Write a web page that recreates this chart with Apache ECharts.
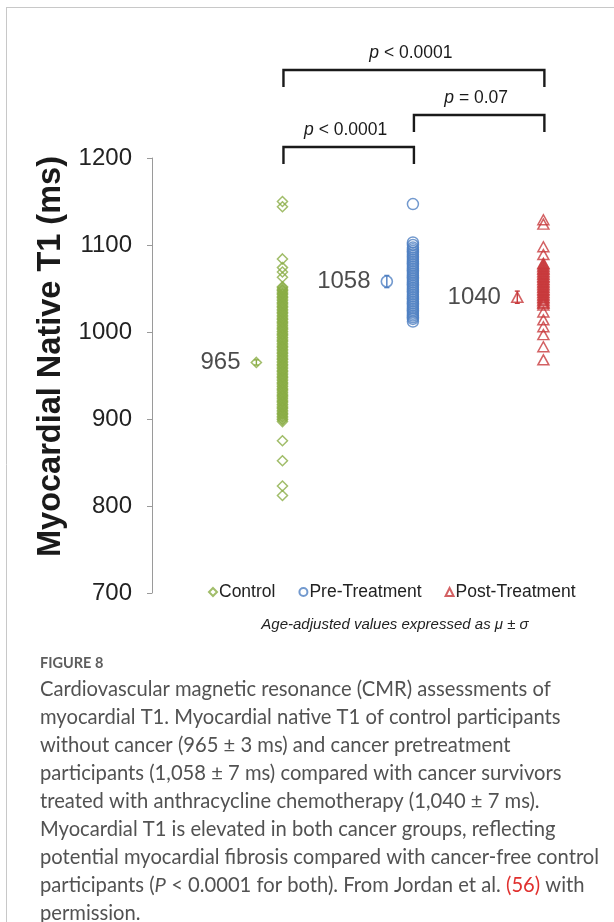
<!DOCTYPE html>
<html>
<head>
<meta charset="utf-8">
<script src="https://cdn.jsdelivr.net/npm/echarts@6/dist/echarts.min.js"></script>
<style>
  html, body { margin: 0; padding: 0; background: #fff; }
  #chart { width: 614px; height: 922px; }
</style>
</head>
<body>
<div id="chart"></div>
<script>
// Group names and their positions along the (hidden) x axis
const groups = ['Control', 'Pre-Treatment', 'Post-Treatment'];
const groupX = [2, 4, 6];
const meanOffset = -0.4;

// Individual myocardial native T1 values (ms)
const controlT1 = [1150, 1144, 1084, 1074, 1069, 1063,
  1052, 1051, 1049, 1048, 1047, 1045, 1044, 1043, 1041, 1040, 1039, 1037, 1036, 1034,
  1033, 1032, 1030, 1029, 1028, 1026, 1025, 1023, 1022, 1021, 1019, 1018, 1016, 1015,
  1014, 1012, 1011, 1010, 1008, 1007, 1005, 1004, 1003, 1001, 1000, 998, 997, 996,
  994, 993, 991, 990, 989, 987, 986, 984, 983, 982, 980, 979, 977, 976, 975, 973,
  972, 970, 969, 968, 966, 965, 963, 962, 961, 959, 958, 956, 955, 954, 952, 951,
  949, 948, 947, 945, 944, 942, 941, 940, 938, 937, 935, 934, 933, 931, 930, 928,
  927, 926, 924, 923, 921, 920, 919, 917, 916, 914, 913, 912, 910, 909, 907, 906,
  905, 903, 902, 900, 899, 897,
  875, 852, 823, 812];
const preT1 = [1147, 1103, 1100, 1097, 1095, 1093, 1091, 1089, 1087, 1085, 1083, 1081,
  1079, 1077, 1075, 1073, 1071, 1069, 1067, 1065, 1063, 1061, 1059, 1057, 1055, 1053,
  1051, 1049, 1047, 1045, 1043, 1041, 1039, 1037, 1035, 1033, 1031, 1029, 1027, 1025,
  1023, 1021, 1019, 1017, 1015, 1012];
const postT1 = [1129, 1124, 1098, 1089, 1079, 1078, 1076, 1075, 1073, 1072, 1070, 1069,
  1067, 1066, 1064, 1063, 1061, 1060, 1058, 1057, 1055, 1054, 1052, 1051, 1049, 1048,
  1046, 1045, 1043, 1042, 1040, 1039, 1037, 1036, 1034, 1033, 1031, 1023, 1014, 1006,
  997, 983, 968];

// Age-adjusted group means and standard deviations (ms)
const meanT1 = [965, 1058, 1040];
const sdT1 = [3, 7, 7];

// Pairwise comparisons shown as brackets above the groups
const comparisons = [
  { from: 0, to: 2, op: '<', p: '0.0001' },
  { from: 1, to: 2, op: '=', p: '0.07' },
  { from: 0, to: 1, op: '<', p: '0.0001' }
];

// Y axis ticks
const yMin = 700, yMax = 1200, yStep = 100;

const captionTitle = 'FIGURE 8';
const captionLines = [
  'Cardiovascular magnetic resonance (CMR) assessments of',
  'myocardial T1. Myocardial native T1 of control participants',
  'without cancer (965 \u00b1 3 ms) and cancer pretreatment',
  'participants (1,058 \u00b1 7 ms) compared with cancer survivors',
  'treated with anthracycline chemotherapy (1,040 \u00b1 7 ms).',
  'Myocardial T1 is elevated in both cancer groups, reflecting',
  'potential myocardial fibrosis compared with cancer-free control',
  'participants ({i|P} < 0.0001 for both). From Jordan et al. {r|(56)} with',
  'permission.'
];

const colors = ['#8aad45', '#4f7fc2', '#c83a3c'];
const symbols = ['diamond', 'circle', 'triangle'];
const sizes = [[10, 10], [11, 11], [11, 10]];
const seriesValues = [controlT1, preT1, postT1];
const FONT = '"Liberation Sans", Arial, sans-serif';

const chart = echarts.init(document.getElementById('chart'), null, { renderer: 'canvas' });

const scatterSeries = groups.map((name, gi) => ({
  name: name,
  type: 'scatter',
  symbol: symbols[gi],
  symbolSize: sizes[gi],
  itemStyle: { color: 'rgba(255,255,255,0)', borderColor: colors[gi], borderWidth: 1.5 },
  data: seriesValues[gi].map(v => [groupX[gi], v]),
  z: 3
}));

const meanSeries = {
  name: 'mean',
  type: 'scatter',
  data: meanT1.map((m, gi) => ({
    value: [groupX[gi] + meanOffset, m],
    symbol: symbols[gi],
    symbolSize: sizes[gi],
    itemStyle: { color: 'rgba(255,255,255,0)', borderColor: colors[gi], borderWidth: 1.6 },
    label: {
      show: true, position: 'left', distance: 10,
      formatter: String(m), fontSize: 24, color: '#1e1e1e', fontFamily: FONT
    }
  })),
  z: 4
};

const errorSeries = {
  name: 'sd',
  type: 'custom',
  data: meanT1.map((m, gi) => [groupX[gi] + meanOffset, m - sdT1[gi], m + sdT1[gi], gi]),
  renderItem: function (params, api) {
    const lo = api.coord([api.value(0), api.value(1)]);
    const hi = api.coord([api.value(0), api.value(2)]);
    const c = colors[api.value(3)];
    const cap = 2.5;
    const st = { stroke: c, lineWidth: 1.4 };
    return {
      type: 'group',
      children: [
        { type: 'line', shape: { x1: lo[0], y1: lo[1], x2: hi[0], y2: hi[1] }, style: st },
        { type: 'line', shape: { x1: lo[0] - cap, y1: lo[1], x2: lo[0] + cap, y2: lo[1] }, style: st },
        { type: 'line', shape: { x1: hi[0] - cap, y1: hi[1], x2: hi[0] + cap, y2: hi[1] }, style: st }
      ]
    };
  },
  z: 5
};

const option = {
  animation: false,
  backgroundColor: '#fff',
  grid: { left: 152, right: 38, top: 158, bottom: 329, containLabel: false },
  xAxis: { type: 'value', min: 0, max: 6.5, show: false },
  yAxis: {
    type: 'value', min: yMin, max: yMax, interval: yStep,
    name: 'Myocardial Native T1 (ms)',
    nameLocation: 'middle', nameRotate: 90, nameGap: 70,
    nameTextStyle: { fontSize: 32.5, fontWeight: 'bold', color: '#1a1a1a', fontFamily: FONT, padding: [0, 0, 0, 38] },
    axisLine: { show: true, lineStyle: { color: '#9a9a9a', width: 1 } },
    axisTick: { show: true, inside: false, length: 5, lineStyle: { color: '#9a9a9a' } },
    splitLine: { show: false },
    axisLabel: { fontSize: 24, color: '#222', margin: 20, fontFamily: FONT, formatter: v => String(v) }
  },
  legend: {
    data: groups,
    left: 203, top: 578,
    itemWidth: 8, itemHeight: 8, itemGap: 23,
    textStyle: { fontSize: 17.5, color: '#222', fontFamily: FONT, padding: [0, 0, 0, -3] },
    selectedMode: false
  },
  series: scatterSeries.concat([meanSeries, errorSeries])
};

chart.setOption(option);

// Annotation graphics: page frame, significance brackets, footnote and caption
const graphics = [];
graphics.push({ type: 'line', shape: { x1: 6, y1: 7.5, x2: 614, y2: 7.5 }, style: { stroke: '#c8c8c8', lineWidth: 1 }, silent: true });
graphics.push({ type: 'line', shape: { x1: 6.5, y1: 7, x2: 6.5, y2: 922 }, style: { stroke: '#c8c8c8', lineWidth: 1 }, silent: true });

const bracketY = [70, 115, 147];
const drop = 17;
comparisons.forEach((c, i) => {
  const xa = chart.convertToPixel({ xAxisIndex: 0, yAxisIndex: 0 }, [groupX[c.from], yMax])[0] + 1;
  const xb = chart.convertToPixel({ xAxisIndex: 0, yAxisIndex: 0 }, [groupX[c.to], yMax])[0] + 1;
  const y = bracketY[i];
  graphics.push({
    type: 'polyline',
    shape: { points: [[xa, y + drop], [xa, y], [xb, y], [xb, y + drop]] },
    style: { stroke: '#1a1a1a', lineWidth: 2.4, fill: null },
    silent: true
  });
  graphics.push({
    type: 'text',
    x: (xa + xb) / 2 - 3, y: y - 17,
    style: {
      text: '{i|p} ' + c.op + ' ' + c.p,
      fontSize: 17.5, fill: '#1a1a1a', fontFamily: FONT,
      align: 'center', verticalAlign: 'middle',
      rich: { i: { fontStyle: 'italic', fontSize: 17.5, fill: '#1a1a1a', fontFamily: FONT } }
    },
    silent: true
  });
});

graphics.push({
  type: 'text', x: 395, y: 625,
  style: {
    text: 'Age-adjusted values expressed as \u03bc \u00b1 \u03c3',
    fontSize: 15, fontStyle: 'italic', fill: '#222', fontFamily: FONT,
    align: 'center', verticalAlign: 'middle'
  },
  silent: true
});

const CAPFONT = 'Lato, "Open Sans", sans-serif';
graphics.push({
  type: 'text', x: 40, y: 663,
  style: { text: captionTitle, fontSize: 14.5, fontWeight: 'bold', fill: '#5e5e5e', fontFamily: CAPFONT, verticalAlign: 'middle' },
  silent: true
});
captionLines.forEach((line, i) => {
  graphics.push({
    type: 'text', x: 40, y: 689 + i * 28,
    style: {
      text: line, fontSize: 20.2, fill: '#525252', fontFamily: CAPFONT, verticalAlign: 'middle',
      rich: {
        i: { fontStyle: 'italic', fontSize: 20.2, fill: '#525252', fontFamily: CAPFONT },
        r: { fontSize: 20.2, fill: '#e0312f', fontFamily: CAPFONT }
      }
    },
    silent: true
  });
});

chart.setOption({ graphic: graphics });
</script>
</body>
</html>
